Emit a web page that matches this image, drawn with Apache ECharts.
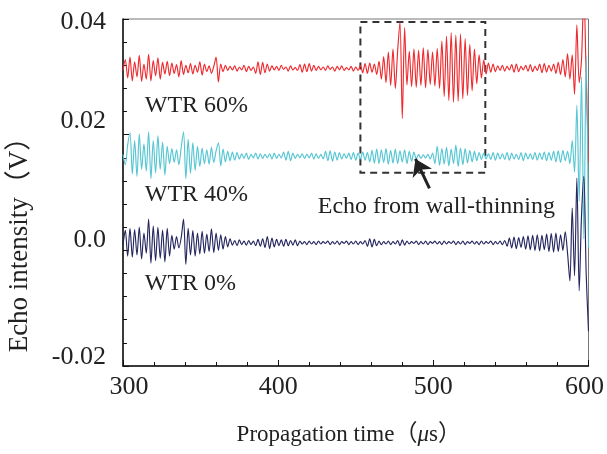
<!DOCTYPE html>
<html><head><meta charset="utf-8">
<script src="https://cdn.jsdelivr.net/npm/echarts@6/dist/echarts.min.js"></script>
<style>html,body{margin:0;padding:0;background:#fff}#c{width:607px;height:454px}</style>
</head><body><div id="c"></div>
<script>
// sampling grid (µs)
const tStart = 300, tStep = 1.5, nSamples = 201;
const times = Array.from({length: nSamples}, (_, i) => tStart + tStep * i);

// Echo intensity (V)
const wtr60 = [.0311,.033,.0298,.0334,.0293,.0326,.03,.0337,.0292,.0322,
.0296,.0339,.0293,.0328,.0302,.0333,.0296,.0325,.0305,.0327,
.0302,.0324,.0306,.0321,.03,.0328,.0304,.032,.0307,.0323,
.0305,.032,.0308,.0326,.0303,.0322,.0309,.0319,.0306,.0318,
.0334,.0291,.0322,.0309,.032,.0311,.0318,.0312,.0319,.031,
.0317,.0312,.032,.0309,.0318,.0311,.0317,.0306,.0326,.0304,
.0325,.0307,.0322,.031,.0319,.0312,.0318,.0311,.032,.0313,
.0317,.031,.0319,.0312,.0316,.0311,.0321,.0308,.0322,.0309,
.0323,.031,.032,.0311,.0318,.0312,.0317,.0311,.0319,.0313,
.0317,.031,.0318,.0312,.0319,.0311,.0316,.0312,.0318,.031,
.0317,.0311,.032,.0307,.0323,.0306,.0324,.0308,.0322,.0304,
.0327,.0296,.0335,.029,.0343,.0285,.0348,.028,.0345,.0395,
.0228,.0385,.0286,.0344,.0283,.0348,.0282,.0346,.0285,.035,
.0281,.0347,.0287,.0343,.0284,.0349,.028,.0362,.0266,.037,
.0259,.0376,.0256,.0372,.0258,.0374,.0262,.0366,.0268,.0356,
.0276,.0348,.0288,.0338,.0298,.0329,.0305,.0324,.0308,.0322,
.0309,.0319,.0311,.032,.031,.0318,.0312,.0321,.0308,.0322,
.0309,.0318,.0312,.032,.031,.0321,.0309,.0318,.0311,.0322,
.0307,.0323,.0308,.032,.031,.0322,.0306,.0325,.0304,.033,
.03,.034,.0296,.0338,.027,.039,.029,.033,.045,.03,
.0151];

const wtr40 = [.0166,.0148,.0182,.0203,.0132,.019,.0128,.0201,.014,.0184,
.0137,.0205,.0124,.019,.0134,.0198,.014,.0187,.013,.018,
.015,.0176,.0152,.0174,.0148,.0178,.0205,.0124,.0192,.0133,
.0186,.0138,.018,.0145,.0177,.015,.0174,.0149,.0178,.0152,
.0172,.0186,.0146,.0175,.0153,.0171,.0155,.017,.0156,.0169,
.0158,.0167,.0159,.0168,.0157,.0166,.016,.0168,.0158,.0167,
.0159,.0166,.016,.0167,.0158,.0168,.0159,.0166,.016,.017,
.0156,.0171,.0155,.0168,.0159,.0166,.016,.0167,.0159,.0166,
.016,.0168,.0158,.0167,.0159,.0166,.0158,.0171,.0155,.0172,
.0154,.017,.0156,.0169,.0158,.0167,.0159,.0168,.0157,.0169,
.0156,.0168,.0158,.017,.0156,.0169,.0153,.0173,.0151,.0175,
.015,.0174,.0152,.0176,.0149,.0173,.0151,.0175,.015,.0172,
.0153,.0174,.015,.0171,.0154,.017,.0158,.0166,.0159,.0165,
.016,.0166,.0158,.0168,.015,.018,.0147,.0176,.0149,.0178,
.0146,.0175,.015,.0182,.0145,.0177,.0148,.0176,.0151,.0173,
.0153,.0171,.0155,.0169,.0157,.0168,.0158,.0167,.0157,.0169,
.0156,.0168,.0158,.0167,.0157,.0169,.0156,.0168,.0158,.0166,
.0157,.0169,.0155,.0168,.0158,.0167,.0157,.0169,.0156,.0168,
.0157,.017,.0155,.0169,.0156,.0171,.0153,.0172,.0152,.0173,
.0155,.0171,.015,.019,.0135,.0251,.0085,.03,.002,.0335,
.0005];

const wtr0 = [.001,.0035,-.001,.0038,-.0012,.0036,-.0008,.004,-.0015,.003,
-.0005,.0054,-.0022,.0042,-.0018,.004,-.0014,.0035,-.002,.0038,
-.001,.0026,.0002,.0024,.0004,.0022,.0054,-.0024,.0038,-.0008,
.0034,-.001,.003,-.0006,.0033,-.0005,.0028,-.0002,.0037,-.0004,
.003,0,.0027,.0002,.0024,.0006,.002,.0009,.0017,.0008,
.0018,.001,.0016,.0009,.0017,.001,.0016,.0008,.0019,.0007,
.002,.0005,.0024,.0003,.0021,.0006,.0019,.0008,.0018,.0007,
.0019,.0008,.0017,.0009,.0018,.0008,.0016,.0011,.0015,.001,
.0016,.0011,.0015,.001,.0016,.0011,.0015,.0012,.0016,.001,
.0015,.0011,.0016,.001,.0015,.0012,.0016,.001,.0015,.0011,
.0016,.001,.0015,.0011,.0017,.0007,.002,.0006,.0019,.0008,
.0016,.001,.0015,.0011,.0016,.001,.0015,.0011,.0017,.0008,
.0018,.0009,.0016,.0011,.0015,.0012,.0016,.001,.0015,.0011,
.0016,.001,.0015,.0012,.0016,.0011,.0015,.001,.0016,.0011,
.0015,.0012,.0016,.001,.0015,.0011,.0016,.001,.0015,.0012,
.0016,.0011,.0015,.001,.0016,.0011,.0015,.0012,.0016,.001,
.0015,.0011,.0016,.001,.0017,.0007,.0021,.0004,.0023,.0003,
.0022,.0005,.0024,.0002,.0025,.0001,.0026,0,.0027,-.0001,
.0026,.0001,.0028,-.0002,.0029,-.0003,.003,-.0002,.0027,0,
.0032,-.0005,-.0053,.0073,-.0044,.0125,-.007,.006,.0128,-.004,
-.014];

const seriesNames = ['WTR 60%', 'WTR 40%', 'WTR 0%'];
const seriesColors = ['#ee2a2e', '#55c6d2', '#25265e'];
// label anchors (µs, V)
const labelPos = [[314, 0.0250], [314, 0.0096], [314, -0.0057]];
const echoText = 'Echo from wall-thinning';
const echoTextPos = [425.5, 0.0075];
const boxRange = [[453, 0.0395], [533.5, 0.0134]];
const arrowFrom = [497.5, 0.0107], arrowTo = [488.5, 0.0158];
const yTitle = 'Echo intensity（V）';

const FONT = '"Liberation Serif","Times New Roman","Noto Sans CJK SC",serif';
const chart = echarts.init(document.getElementById('c'), null, {renderer: 'canvas'});

const dataSets = [wtr60, wtr40, wtr0];
const series = dataSets.map((vals, k) => ({
  name: seriesNames[k], type: 'line', showSymbol: false, symbol: 'none',
  smooth: 0.3,
  data: times.map((t, i) => [t, vals[i]]),
  lineStyle: {width: 1.15, color: seriesColors[k]}, color: seriesColors[k],
  clip: true, animation: false, z: 3 + k
}));
series[0].markArea = {
  silent: true,
  itemStyle: {color: 'rgba(0,0,0,0)', borderColor: '#333', borderWidth: 2, borderType: [7, 5]},
  label: {show: false},
  data: [[{coord: boxRange[0]}, {coord: boxRange[1]}]]
};
series[0].markLine = {
  silent: true, animation: false,
  symbol: ['none', 'arrow'], symbolSize: 16,
  lineStyle: {color: '#222', width: 3, type: 'solid'},
  itemStyle: {color: '#222'},
  label: {show: false},
  data: [[{coord: arrowFrom}, {coord: arrowTo}]]
};

const yShift = {'0.04': -3, '0.02': 13, '0.0': 10, '-0.02': 9};
const yRich = {};
Object.keys(yShift).forEach((k, j) => {
  const s = yShift[k];
  yRich['y' + j] = {fontFamily: FONT, fontSize: 26, color: '#222',
    padding: s >= 0 ? [0, 0, 2 * s, 0] : [-2 * s, 0, 0, 0]};
});
const yKeys = Object.keys(yShift);

chart.setOption({
  animation: false,
  grid: {left: 123, right: 17, top: 19, bottom: 88, show: true, borderColor: '#777', borderWidth: 1, backgroundColor: 'transparent'},
  xAxis: {
    type: 'value', min: 300, max: 600, interval: 100,
    axisLine: {onZero: false, lineStyle: {color: '#111', width: 1.5}},
    axisTick: {inside: true, length: 6, lineStyle: {color: '#111'}},
    minorTick: {show: true, splitNumber: 5, length: 4, lineStyle: {color: '#111'}},
    splitLine: {show: false},
    axisLabel: {fontFamily: FONT, fontSize: 26, color: '#222', margin: 8,
      formatter: v => v === 300 ? '{l|300}' : (v === 600 ? '{r|600}' : String(v)),
      rich: {l: {fontFamily: FONT, fontSize: 26, color: '#222', padding: [0, 0, 0, 12]},
             r: {fontFamily: FONT, fontSize: 26, color: '#222', padding: [0, 8, 0, 0]}}},
    name: 'Propagation time（{i|μ}s）', nameLocation: 'middle', nameGap: 57,
    nameTextStyle: {fontFamily: FONT, fontSize: 23, color: '#222', padding: [0, 14, 0, 0],
      rich: {i: {fontFamily: FONT, fontSize: 23, fontStyle: 'italic', color: '#222'}}}
  },
  yAxis: {
    type: 'value', min: -0.02, max: 0.04, interval: 0.02,
    axisLine: {onZero: false, lineStyle: {color: '#111', width: 1.5}},
    axisTick: {inside: true, length: 6, lineStyle: {color: '#111'}},
    minorTick: {show: true, splitNumber: 5, length: 4, lineStyle: {color: '#111'}},
    splitLine: {show: false},
    axisLabel: {fontFamily: FONT, fontSize: 26, color: '#222', margin: 17,
      formatter: v => {
        const s = Math.abs(v) < 1e-9 ? '0.0' : v.toFixed(2);
        const j = yKeys.indexOf(s);
        return j >= 0 ? '{y' + j + '|' + s + '}' : s;
      },
      rich: yRich}
  },
  series: series
});

const texts = seriesNames.map((n, k) => {
  const p = chart.convertToPixel({gridIndex: 0}, labelPos[k]);
  return {type: 'text', x: p[0], y: p[1], silent: true,
    style: {text: n, font: '24px ' + FONT, fill: '#222', textAlign: 'left', textVerticalAlign: 'middle'}};
});
const ep = chart.convertToPixel({gridIndex: 0}, echoTextPos);
texts.push({type: 'text', x: ep[0], y: ep[1], silent: true,
  style: {text: echoText, font: '24px ' + FONT, fill: '#222', textAlign: 'left', textVerticalAlign: 'middle'}});
// y-axis title, rotated, placed beside the axis
texts.push({type: 'text', x: 20, y: 238, rotation: Math.PI / 2, silent: true,
  style: {text: yTitle, font: '27px ' + FONT, fill: '#222', textAlign: 'center', textVerticalAlign: 'middle'}});
chart.setOption({graphic: texts});
</script>
</body></html>
